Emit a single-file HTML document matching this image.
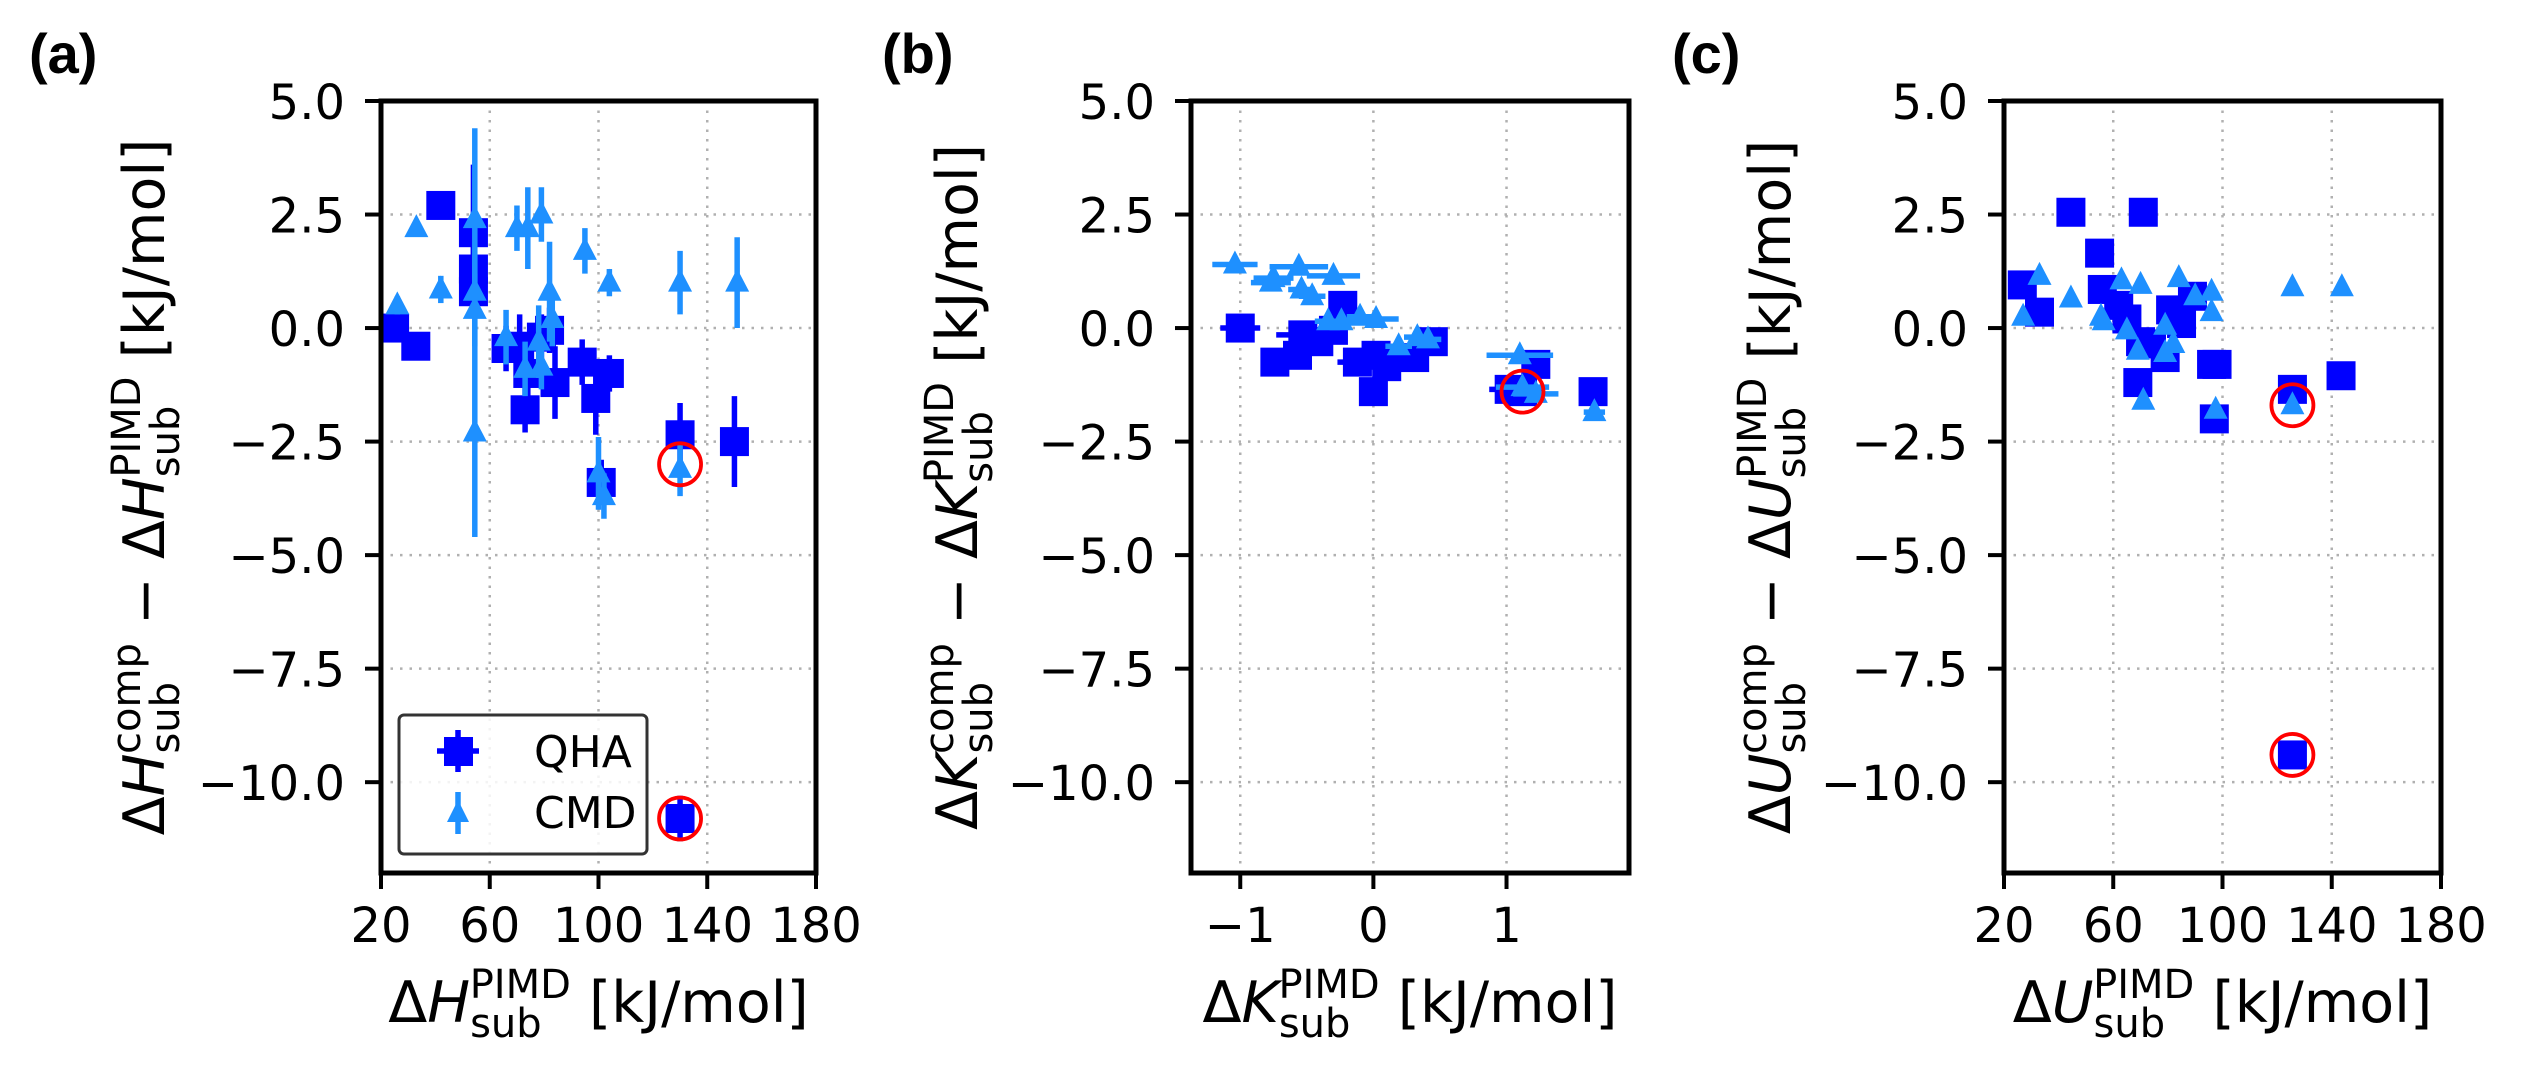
<!DOCTYPE html>
<html><head><meta charset="utf-8"><style>
html,body{margin:0;padding:0;background:#fff}
svg{display:block}
text{font-family:"DejaVu Sans","Liberation Sans",sans-serif}
</style></head><body>
<svg id="fig" width="2530" height="1080" viewBox="0 0 2530 1080" xmlns="http://www.w3.org/2000/svg"></svg>
<script>
// ---- Panel (a) data: ΔH ----
const aQhaX = [25,32.8,42,54,54,54,66,71,73,74,79,82,84,94,99,101,104,130,150,130];
const aQhaY = [0,-0.4,2.7,2.1,1.3,0.8,-0.45,-0.4,-1.8,-1.0,-0.2,-0.05,-1.2,-0.75,-1.55,-3.4,-1.0,-2.35,-2.5,-10.8];
const aQhaErr = [0.2,0.2,0.2,1.5,0.5,0.4,0.5,0.7,0.5,0.6,0.5,0.5,0.8,0.5,0.8,0.5,0.4,0.7,1.0,0.5];
const aCmdX = [26,33,42,54.5,54.5,54.5,54.5,66,70,74,73,78,79,79,82,83,95,100,102,104,130,130,151];
const aCmdY = [0.5,2.2,0.85,2.4,0.8,0.4,-2.3,-0.2,2.2,2.2,-0.9,-0.3,2.5,-0.85,0.8,0.2,1.7,-3.2,-3.7,1.0,1.0,-3.1,1.0];
const aCmdErr = [0.2,0.1,0.3,2.0,0.8,0.8,2.3,0.6,0.5,0.9,0.6,0.8,0.6,0.5,1.1,0.6,0.5,0.8,0.5,0.3,0.7,0.6,1.0];
const aCircX = [130,130];
const aCircY = [-3.0,-10.8];
// ---- Panel (b) data: ΔK ----
const bQhaX = [-1.0,-0.74,-0.57,-0.53,-0.41,-0.23,-0.3,-0.12,0.0,0.02,0.1,0.31,0.45,1.02,1.22,1.65,1.12];
const bQhaY = [0.0,-0.75,-0.6,-0.15,-0.3,0.5,-0.05,-0.75,-1.4,-0.6,-0.85,-0.65,-0.3,-1.35,-0.8,-1.4,-1.4];
const bQhaErr = [0.15,0.1,0.1,0.2,0.1,0.1,0.1,0.15,0.1,0.1,0.1,0.1,0.1,0.15,0.1,0.05,0.15];
const bCmdX = [-1.04,-0.77,-0.75,-0.56,-0.54,-0.46,-0.3,-0.34,-0.24,-0.1,0.02,0.19,0.33,0.41,1.1,1.12,1.22,1.66];
const bCmdY = [1.4,1.0,1.1,1.35,0.85,0.7,1.15,0.15,0.15,0.25,0.2,-0.4,-0.2,-0.25,-0.6,-1.3,-1.45,-1.85];
const bCmdErr = [0.17,0.15,0.15,0.22,0.1,0.1,0.2,0.1,0.1,0.1,0.17,0.1,0.1,0.1,0.25,0.2,0.17,0.08];
const bCircX = [1.12];
const bCircY = [-1.4];
// ---- Panel (c) data: ΔU ----
const cQhaX = [26.7,33,44.5,55,56,62,65,69,71,70,74,79,81,85,89,96,98,97,125.6,143.4,125.6];
const cQhaY = [0.95,0.35,2.55,1.65,0.85,0.5,0.2,-1.2,2.55,-0.3,-0.35,-0.65,0.4,0.1,0.7,-0.8,-0.8,-2.0,-1.35,-1.05,-9.4];
const cCmdX = [27,33,44.5,55.5,56.5,63,65,70,69,71,79,79,82,84,90,96,96,97.5,125.6,125.6,143.7];
const cCmdY = [0.25,1.15,0.65,0.25,0.15,1.05,-0.05,0.95,-0.5,-1.6,0.05,-0.55,-0.35,1.1,0.7,0.8,0.35,-1.8,0.9,-1.7,0.9];
const cCircX = [125.6,125.6];
const cCircY = [-1.7,-9.4];
// ---- ticks ----
const yTicks = [5.0,2.5,0.0,-2.5,-5.0,-7.5,-10.0];
const yTickLabels = ["5.0","2.5","0.0","\u22122.5","\u22125.0","\u22127.5","\u221210.0"];
const xTicksAC = [20,60,100,140,180];
const xTickLabelsAC = ["20","60","100","140","180"];
const xTicksB = [-1,0,1];
const xTickLabelsB = ["\u22121","0","1"];

const NS = "http://www.w3.org/2000/svg";
const svg = document.getElementById('fig');
function mk(tag, attrs, parent){const e=document.createElementNS(NS,tag);for(const k in attrs)e.setAttribute(k,attrs[k]);(parent||svg).appendChild(e);return e;}

const QHA = "#0000ff", CMD = "#1e90ff";
const TOP = 101, BOT = 873;
const YMIN = -12, YMAX = 5;
const TF = 48, LF = 57, SF = 40;
const EW = 5.5;

function mathLabel(q, withComp){
  let s = `Δ<tspan font-style="italic">${q}</tspan><tspan font-size="${SF}" dy="15">sub</tspan>`;
  if(withComp){
    s += `<tspan font-size="${SF}" dx="-72" dy="-39">comp</tspan><tspan dy="24"> − Δ</tspan><tspan font-style="italic">${q}</tspan><tspan font-size="${SF}" dy="15">sub</tspan>`;
  }
  s += `<tspan font-size="${SF}" dx="-72" dy="-39">PIMD</tspan><tspan dy="24"> [kJ/mol]</tspan>`;
  return s;
}

function panel(cfg){
  const g = mk('g',{});
  
  
  const L=cfg.left,R=cfg.right;
  const sx = v => L + (v-cfg.xmin)/(cfg.xmax-cfg.xmin)*(R-L);
  const sy = v => TOP + (YMAX-v)/(YMAX-YMIN)*(BOT-TOP);
  cfg.xt.forEach(t=>{const x=sx(t);const l=mk('line',{x1:x,x2:x,y1:TOP,y2:BOT,stroke:'#b0b0b0','stroke-width':2.5,'stroke-dasharray':'2.5 7'},g);
    
    });
  yTicks.forEach(t=>{const y=sy(t);const l=mk('line',{x1:L,x2:R,y1:y,y2:y,stroke:'#b0b0b0','stroke-width':2.5,'stroke-dasharray':'2.5 7'},g);
    
    });
  const sq=29;
  cfg.qx.forEach((v,i)=>{
    const x=sx(v),y=sy(cfg.qy[i]);
    if(cfg.qye){const e=cfg.qye[i];const l=mk('line',{x1:x,x2:x,y1:sy(cfg.qy[i]+e),y2:sy(cfg.qy[i]-e),stroke:QHA,'stroke-width':EW},g);
      
      }
    if(cfg.qxe){const e=cfg.qxe[i];const l=mk('line',{y1:y,y2:y,x1:sx(v-e),x2:sx(v+e),stroke:QHA,'stroke-width':EW},g);
      
      }
  });
  cfg.qx.forEach((v,i)=>{
    const x=sx(v),y=sy(cfg.qy[i]);
    const r=mk('rect',{x:x-sq/2,y:y-sq/2,width:sq,height:sq,fill:QHA},g);
    
    
  });
  cfg.cx.forEach((v,i)=>{
    const x=sx(v),y=sy(cfg.cy[i]);
    if(cfg.cye){const e=cfg.cye[i];const l=mk('line',{x1:x,x2:x,y1:sy(cfg.cy[i]+e),y2:sy(cfg.cy[i]-e),stroke:CMD,'stroke-width':EW},g);
      
      }
    if(cfg.cxe){const e=cfg.cxe[i];const l=mk('line',{y1:y,y2:y,x1:sx(v-e),x2:sx(v+e),stroke:CMD,'stroke-width':EW},g);
      
      }
  });
  cfg.cx.forEach((v,i)=>{
    const x=sx(v),y=sy(cfg.cy[i]);
    const p=mk('polygon',{points:`${x},${y-14} ${x-12},${y+9} ${x+12},${y+9}`,fill:CMD},g);
    
    
  });
  cfg.rx.forEach((v,i)=>{
    const c=mk('ellipse',{cx:sx(v),cy:sy(cfg.ry[i]),rx:21,ry:21,fill:'none',stroke:'#ff0000','stroke-width':3.8},g);
    
    
  });
  const fr=mk('rect',{x:L,y:TOP,width:R-L,height:BOT-TOP,fill:'none',stroke:'#000','stroke-width':5},g);
  
  
  yTicks.forEach((t,i)=>{const y=sy(t);
    mk('line',{x1:L-16,x2:L,y1:y,y2:y,stroke:'#000','stroke-width':4},g);
    const tx=mk('text',{x:L-36,y:y+18,'font-size':TF,'text-anchor':'end',fill:'#000'},g);
    tx.textContent=yTickLabels[i];
    
    });
  cfg.xt.forEach((t,i)=>{const x=sx(t);
    mk('line',{x1:x,x2:x,y1:BOT,y2:BOT+16,stroke:'#000','stroke-width':4},g);
    const tx=mk('text',{x:x,y:942,'font-size':TF,'text-anchor':'middle',fill:'#000'},g);
    tx.textContent=cfg.xtl[i];
    
    });
  const xl=mk('text',{x:(L+R)/2,y:1022,'font-size':LF,'text-anchor':'middle',fill:'#000'},g);
  xl.innerHTML=mathLabel(cfg.q,false);
  
  
  const yl=mk('text',{x:0,y:0,'font-size':LF,'text-anchor':'middle',fill:'#000',transform:`translate(${cfg.ylx},${(TOP+BOT)/2}) rotate(-90)`},g);
  yl.innerHTML=mathLabel(cfg.q,true);
  
  
  const pl=mk('text',{x:cfg.plx,y:73,'font-size':56,'font-weight':'bold',fill:'#000',style:'font-family:"Liberation Sans",sans-serif'},g);
  pl.textContent=cfg.label;
  
  
  return {g,sx,sy};
}

panel({name:'panel-a-enthalpy',left:381,right:816,xmin:20,xmax:180,xt:xTicksAC,xtl:xTickLabelsAC,
  qx:aQhaX,qy:aQhaY,qye:aQhaErr,cx:aCmdX,cy:aCmdY,cye:aCmdErr,rx:aCircX,ry:aCircY,q:'H',ylx:164,plx:29,label:'(a)'});
panel({name:'panel-b-kinetic',left:1191,right:1629,xmin:-1.37,xmax:1.92,xt:xTicksB,xtl:xTickLabelsB,
  qx:bQhaX,qy:bQhaY,qxe:bQhaErr,cx:bCmdX,cy:bCmdY,cxe:bCmdErr,rx:bCircX,ry:bCircY,q:'K',ylx:977,plx:882,label:'(b)'});
panel({name:'panel-c-internal-energy',left:2004,right:2441,xmin:20,xmax:180,xt:xTicksAC,xtl:xTickLabelsAC,
  qx:cQhaX,qy:cQhaY,cx:cCmdX,cy:cCmdY,rx:cCircX,ry:cCircY,q:'U',ylx:1790,plx:1672,label:'(c)'});

const lg = mk('g',{});


mk('rect',{x:399,y:715,width:248,height:139,rx:5,fill:'#fff','fill-opacity':0.85,stroke:'#333','stroke-width':3},lg);
const e1=mk('g',{},lg);


mk('line',{x1:458,x2:458,y1:730,y2:772,stroke:QHA,'stroke-width':EW},e1);
mk('line',{x1:437,x2:479,y1:751,y2:751,stroke:QHA,'stroke-width':EW},e1);
mk('rect',{x:444,y:737,width:29,height:29,fill:QHA},e1);
const t1=mk('text',{x:534,y:767,'font-size':44,fill:'#000'},e1);t1.textContent='QHA';
const e2=mk('g',{},lg);


mk('line',{x1:458,x2:458,y1:792,y2:834,stroke:CMD,'stroke-width':EW},e2);
mk('polygon',{points:'458,800 447,822 469,822',fill:CMD},e2);
const t2=mk('text',{x:534,y:828,'font-size':44,fill:'#000'},e2);t2.textContent='CMD';
</script>
</body></html>
